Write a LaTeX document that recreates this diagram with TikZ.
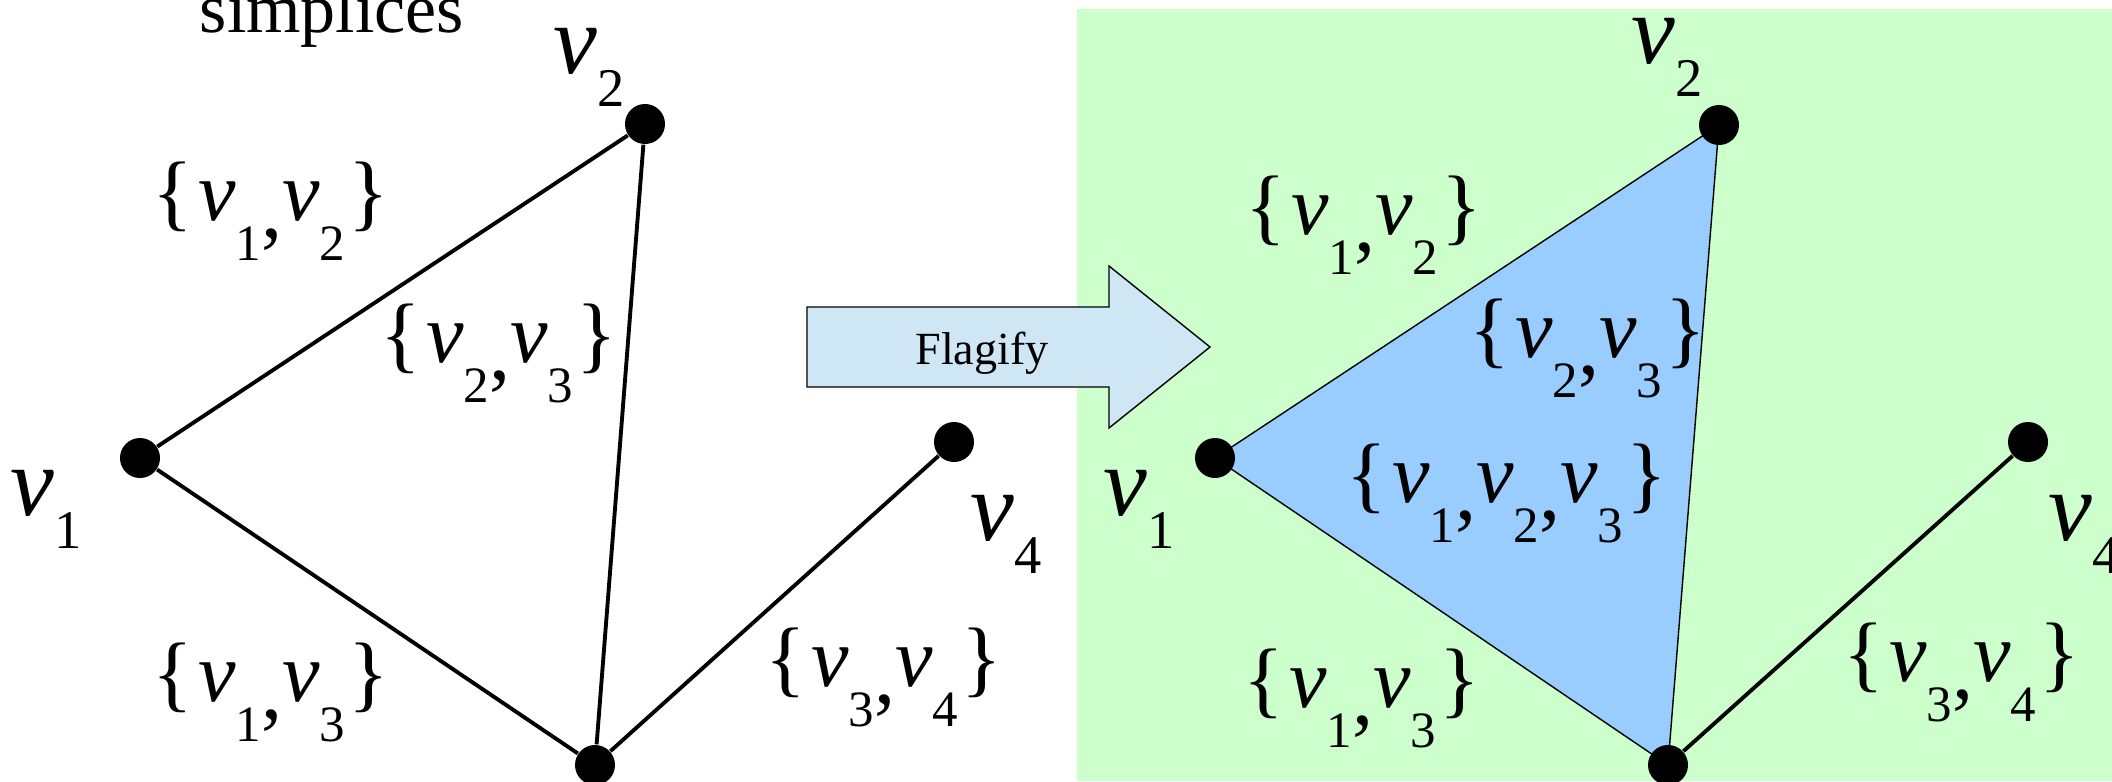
\documentclass[tikz,border=0pt]{standalone}
\usepackage{fontspec}
\setmainfont{Liberation Serif}
\usetikzlibrary{backgrounds}
\definecolor{flaggreen}{RGB}{204,255,204}
\definecolor{flagblue}{RGB}{153,204,255}
\definecolor{arrowblue}{RGB}{207,231,245}
% v with a lowered index
\newcommand{\esub}[1]{\textit{v}\raisebox{-11.4pt}{\fontsize{14.5}{16}\selectfont #1}}
\newcommand{\ecomma}{\raisebox{-5pt}{,}}
\newcommand{\vlab}[1]{\textit{v}\raisebox{-9.4pt}{\fontsize{15.5}{17}\selectfont #1}}
\tikzset{
  dot/.style={circle, fill=black, inner sep=0pt, minimum size=0.4cm},
  vname/.style={anchor=base west, inner sep=0pt, font=\fontsize{28}{30}\selectfont},
  ename/.style={anchor=base, inner sep=0pt, font=\fontsize{24}{26}\selectfont},
  edge/.style={line width=1.1pt},
  thinedge/.style={line width=0.4pt},
}
\begin{document}
\begin{tikzpicture}[x=0.01cm, y=-0.01cm]
\useasboundingbox (0,0) rectangle (2112,781);
% Left: the simplices
\node[anchor=base, inner sep=0pt, font=\fontsize{19.9}{22}\selectfont] (title) at (332,32) {simplices};
\node[dot] (L1) at (140,458) {};
\node[dot] (L2) at (645,124) {};
\node[dot] (L3) at (595,765) {};
\node[dot] (L4) at (954,442) {};
\draw[edge] (L1) -- (L2) (L2) -- (L3) (L1) -- (L3) (L3) -- (L4);
\node[vname] (L1name) at (10,515) {\vlab{1}};
\node[vname] (L2name) at (553,73) {\vlab{2}};
\node[vname] (L4name) at (970,540) {\vlab{4}};
\node[ename] (L12) at (271,220) {\{\kern1.5pt\esub{1}\ecomma\esub{2}\kern1pt\}};
\node[ename] (L23) at (499,362) {\{\kern1.5pt\esub{2}\ecomma\esub{3}\kern1pt\}};
\node[ename] (L13) at (271,701) {\{\kern1.5pt\esub{1}\ecomma\esub{3}\kern1pt\}};
\node[ename] (L34) at (884,686) {\{\kern1.5pt\esub{3}\ecomma\esub{4}\kern1pt\}};
% Arrow
\draw[fill=arrowblue, thinedge] (807,307) -- (1109,307) -- (1109,266) -- (1210,347)
  -- (1109,428) -- (1109,387) -- (807,387) -- cycle;
\node[anchor=base, inner sep=0pt, font=\fontsize{13.1}{15}\selectfont] (flag) at (982,364) {Flagify};
% Right: the flag complex
\node[dot] (R1) at (1215,458) {};
\node[dot] (R2) at (1719,125) {};
\node[dot] (R3) at (1668,765) {};
\node[dot] (R4) at (2028,442) {};
\draw[edge] (R3) -- (R4);
\begin{scope}[on background layer]
  \fill[flaggreen] (1077,9) rectangle (2112,781);
  \filldraw[fill=flagblue, draw=black, thinedge] (R1.center) -- (R2.center) -- (R3.center) -- cycle;
\end{scope}
\node[vname] (R1name) at (1103,515) {\vlab{1}};
\node[vname] (R2name) at (1631,63) {\vlab{2}};
\node[vname] (R4name) at (2048,540) {\vlab{4}};
\node[ename] (R12) at (1364,234) {\{\kern1.5pt\esub{1}\ecomma\esub{2}\kern1pt\}};
\node[ename] (R23) at (1588,357) {\{\kern1.5pt\esub{2}\ecomma\esub{3}\kern1pt\}};
\node[ename] (R123) at (1507,502) {\{\kern1.5pt\esub{1}\ecomma\esub{2}\ecomma\esub{3}\kern1pt\}};
\node[ename] (R13) at (1362,707) {\{\kern1.5pt\esub{1}\ecomma\esub{3}\kern1pt\}};
\node[ename] (R34) at (1962,681) {\{\kern1.5pt\esub{3}\ecomma\esub{4}\kern1pt\}};
\end{tikzpicture}
\end{document}
